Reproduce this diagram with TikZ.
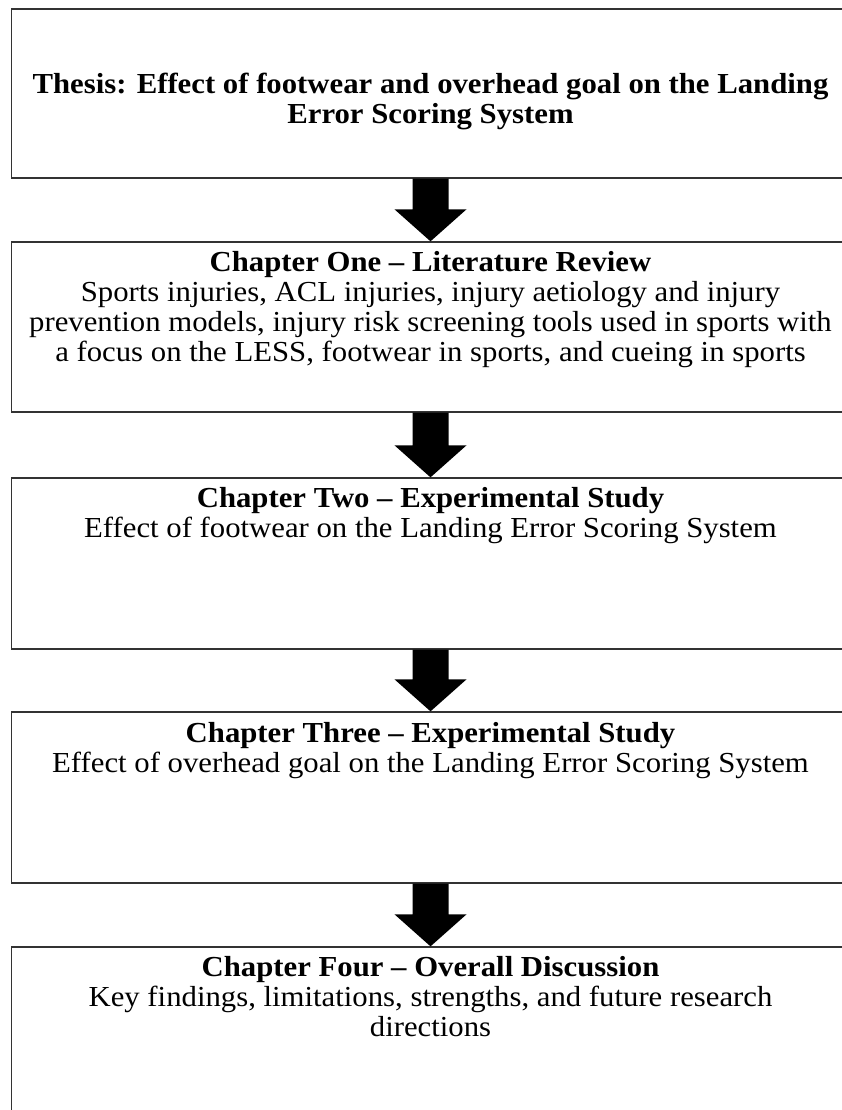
\documentclass[tikz,border=0pt]{standalone}
\usepackage{fontspec}
\setmainfont{Liberation Serif}[FakeStretch=1.06]
\usetikzlibrary{positioning}

\tikzset{
    chapbox/.style = {draw = black!80, line width = 1.3pt, minimum width = 838pt, inner sep = 0},
    chaptext/.style = {align = center, inner sep = 0, font = \fontsize{29}{30}\selectfont},
    blockarrow/.style = {fill = black}
}

\begin{document}
\begin{tikzpicture}[x = 1pt, y = -1pt]
    \clip (0, 0) rectangle (842, 1110);

    \node[chapbox, minimum height = 169pt] (thesis) at (430.5, 93.5) {};
    \node[chapbox, minimum height = 170pt] (one) at (430.5, 327) {};
    \node[chapbox, minimum height = 171pt] (two) at (430.5, 563.5) {};
    \node[chapbox, minimum height = 171pt] (three) at (430.5, 797.5) {};
    \node[chapbox, minimum height = 171pt] (four) at (430.5, 1032.5) {};

    \node[chaptext, below = 64.7pt of thesis.north] (thesistext)
        {\textbf{Thesis: Effect of footwear and overhead goal on the Landing}\\
         \textbf{Error Scoring System}};
    \node[chaptext, below = 9.7pt of one.north] (onetext)
        {\textbf{Chapter One -- Literature Review}\\
         Sports injuries, ACL injuries, injury aetiology and injury\\
         prevention models, injury risk screening tools used in sports with\\
         a focus on the LESS, footwear in sports, and cueing in sports};
    \node[chaptext, below = 9.7pt of two.north] (twotext)
        {\textbf{Chapter Two -- Experimental Study}\\
         Effect of footwear on the Landing Error Scoring System};
    \node[chaptext, below = 10.7pt of three.north] (threetext)
        {\textbf{Chapter Three -- Experimental Study}\\
         Effect of overhead goal on the Landing Error Scoring System};
    \node[chaptext, below = 9.7pt of four.north] (fourtext)
        {\textbf{Chapter Four -- Overall Discussion}\\
         Key findings, limitations, strengths, and future research\\
         directions};

    % block arrows
    \foreach \from/\to in {thesis/one, one/two, two/three, three/four}
        \fill[blockarrow] ([xshift = -18pt] \from.south) -- ([xshift = 18pt] \from.south)
            -- ([xshift = 18pt, yshift = 32pt] \to.north)
            -- ([xshift = 36pt, yshift = 32pt] \to.north) -- (\to.north)
            -- ([xshift = -36pt, yshift = 32pt] \to.north)
            -- ([xshift = -18pt, yshift = 32pt] \to.north) -- cycle;
\end{tikzpicture}
\end{document}
